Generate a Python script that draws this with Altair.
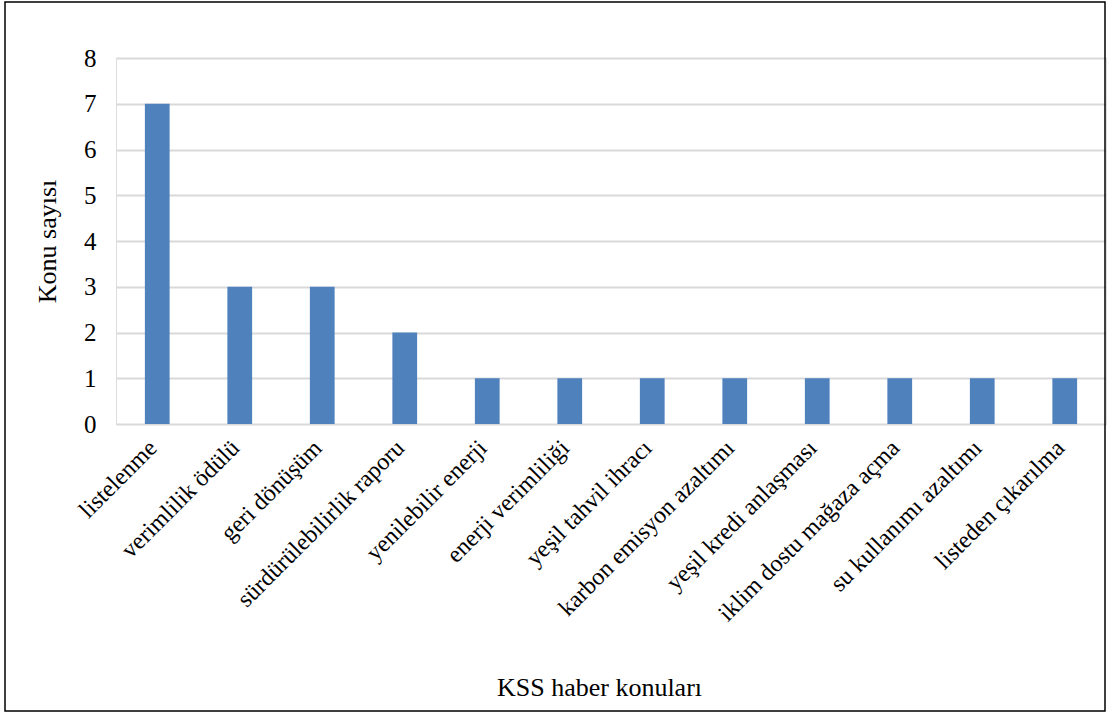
import altair as alt
import pandas as pd

categories = [
    "listelenme", "verimlilik ödülü", "geri dönüşüm", "sürdürülebilirlik raporu",
    "yenilebilir enerji", "enerji verimliliği", "yeşil tahvil ihracı",
    "karbon emisyon azaltımı", "yeşil kredi anlaşması", "iklim dostu mağaza açma",
    "su kullanımı azaltımı", "listeden çıkarılma",
]
counts = [7, 3, 3, 2, 1, 1, 1, 1, 1, 1, 1, 1]

df = pd.DataFrame({"konu": categories, "sayi": counts})
FONT = "Liberation Serif"

bars = alt.Chart(df).mark_bar(color="#4f81bd").encode(
    x=alt.X("konu:N", sort=categories,
            scale=alt.Scale(paddingInner=0.7, paddingOuter=0.35),
            axis=alt.Axis(title="KSS haber konuları", labelAngle=-45,
                          labelAlign="right", labelBaseline="middle",
                          labelPadding=20, labelOffset=-4, ticks=False, domain=False,
                          labelFontSize=24, labelFont=FONT, labelColor="black",
                          labelLimit=400,
                          titleFont=FONT, titleFontSize=26, titleFontWeight="normal",
                          titleColor="black", titleX=483, titleY=271,
                          titleBaseline="alphabetic", titleAnchor="middle", titleAlign="center")),
    y=alt.Y("sayi:Q", scale=alt.Scale(domain=[0, 8], nice=False),
            axis=alt.Axis(title="Konu sayısı", values=list(range(0, 9)),
                          ticks=False, domain=False, grid=True,
                          gridColor="#d9d9d9", gridWidth=2,
                          labelFontSize=25, labelFont=FONT, labelColor="black",
                          labelPadding=20,
                          titleFont=FONT, titleFontSize=26, titleFontWeight="normal",
                          titleColor="black", titleX=-69, titleY=183,
                          titleBaseline="middle", titleAlign="center", titleAngle=-90)),
)

border = alt.Chart(alt.Data(values=[{"a": 1}])).mark_rect(
    fill=None, stroke="black", strokeWidth=1.5, clip=False
).encode(
    x=alt.value(-111), x2=alt.value(989), y=alt.value(-56), y2=alt.value(653)
)

chart = alt.layer(bars, border).properties(
    width=990, height=366,
    autosize=alt.AutoSizeParams(type="none"),
    padding={"left": 116, "top": 58, "right": 1, "bottom": 290},
).configure_view(stroke=None).configure(background="white")

chart.save("out.html", embed_options={"renderer": "svg", "actions": False})
